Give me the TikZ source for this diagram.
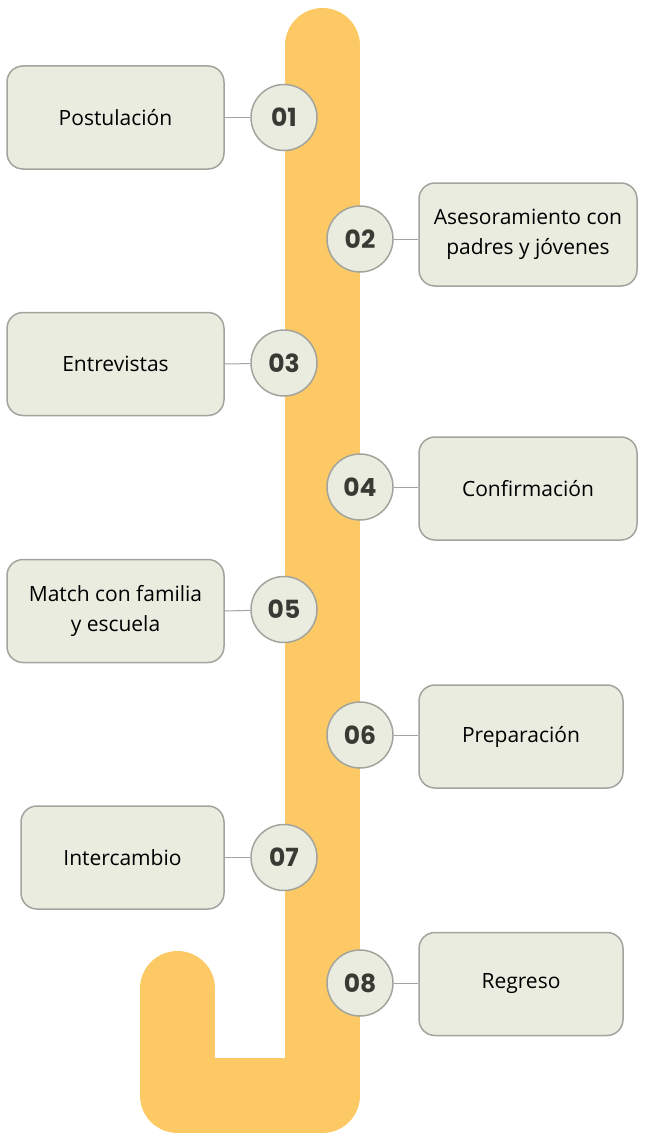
\documentclass[tikz,border=0pt]{standalone}
\usepackage{fontspec}
\setmainfont{Open Sans}
\newfontfamily\numfont{Poppins}[UprightFont=* Bold]
\usetikzlibrary{positioning}
\definecolor{mustard}{HTML}{FCC965}
\definecolor{sage}{HTML}{E9ECDF}
\definecolor{edgegray}{HTML}{A3A49E}
\definecolor{numgray}{HTML}{3A3934}

\begin{document}
\begin{tikzpicture}[x=1pt,y=-1pt,
		step box/.style={draw=edgegray,fill=sage,line width=1.5pt,rounded corners=16pt,
			minimum height=103pt,inner sep=0pt,align=center,font=\fontsize{21}{30}\selectfont},
		step num/.style={circle,draw=edgegray,fill=sage,line width=1.5pt,minimum size=66pt,
			inner sep=0pt,text=numgray,font=\numfont\fontsize{25}{25}\selectfont},
		link/.style={draw=edgegray,line width=1pt}]
		\useasboundingbox (0,0) rectangle (649,1145);
		% the yellow road
		\draw[mustard,line width=75pt,line cap=round,line join=round]
			(322.5,45.5) -- (322.5,1095.5) -- (177.5,1095.5) -- (177.5,988.5);
		% left side
		\node[step box,minimum width=217pt] (post) at (115.5,117.5) {Postulación};
		\node[step box,minimum width=217pt] (entr) at (115.5,364) {Entrevistas};
		\node[step box,minimum width=217pt] (match) at (115.5,611) {Match con familia\\y escuela};
		\node[step box,minimum width=203pt] (inter) at (122.5,857.5) {Intercambio};
		% right side
		\node[step box,minimum width=218pt] (ases) at (528,234.5) {Asesoramiento con\\padres y jóvenes};
		\node[step box,minimum width=218pt] (conf) at (528,488.5) {Confirmación};
		\node[step box,minimum width=204pt] (prep) at (521,736.5) {Preparación};
		\node[step box,minimum width=204pt] (regr) at (521,984) {Regreso};
		% numbers
		\node[step num] (n1) at (284,117.5) {01};
		\node[step num] (n2) at (360,239) {02};
		\node[step num] (n3) at (284,363) {03};
		\node[step num] (n4) at (360,487) {04};
		\node[step num] (n5) at (284,609.5) {05};
		\node[step num] (n6) at (360,735) {06};
		\node[step num] (n7) at (284,857.5) {07};
		\node[step num] (n8) at (360,983) {08};
		\draw[link] (post.east) -- (n1);
		\draw[link] (n2) -- (ases.west |- n2);
		\draw[link] (entr.east) -- (n3);
		\draw[link] (n4) -- (conf.west |- n4);
		\draw[link] (match.east) -- (n5);
		\draw[link] (n6) -- (prep.west |- n6);
		\draw[link] (inter.east) -- (n7);
		\draw[link] (n8) -- (regr.west |- n8);
\end{tikzpicture}
\end{document}
